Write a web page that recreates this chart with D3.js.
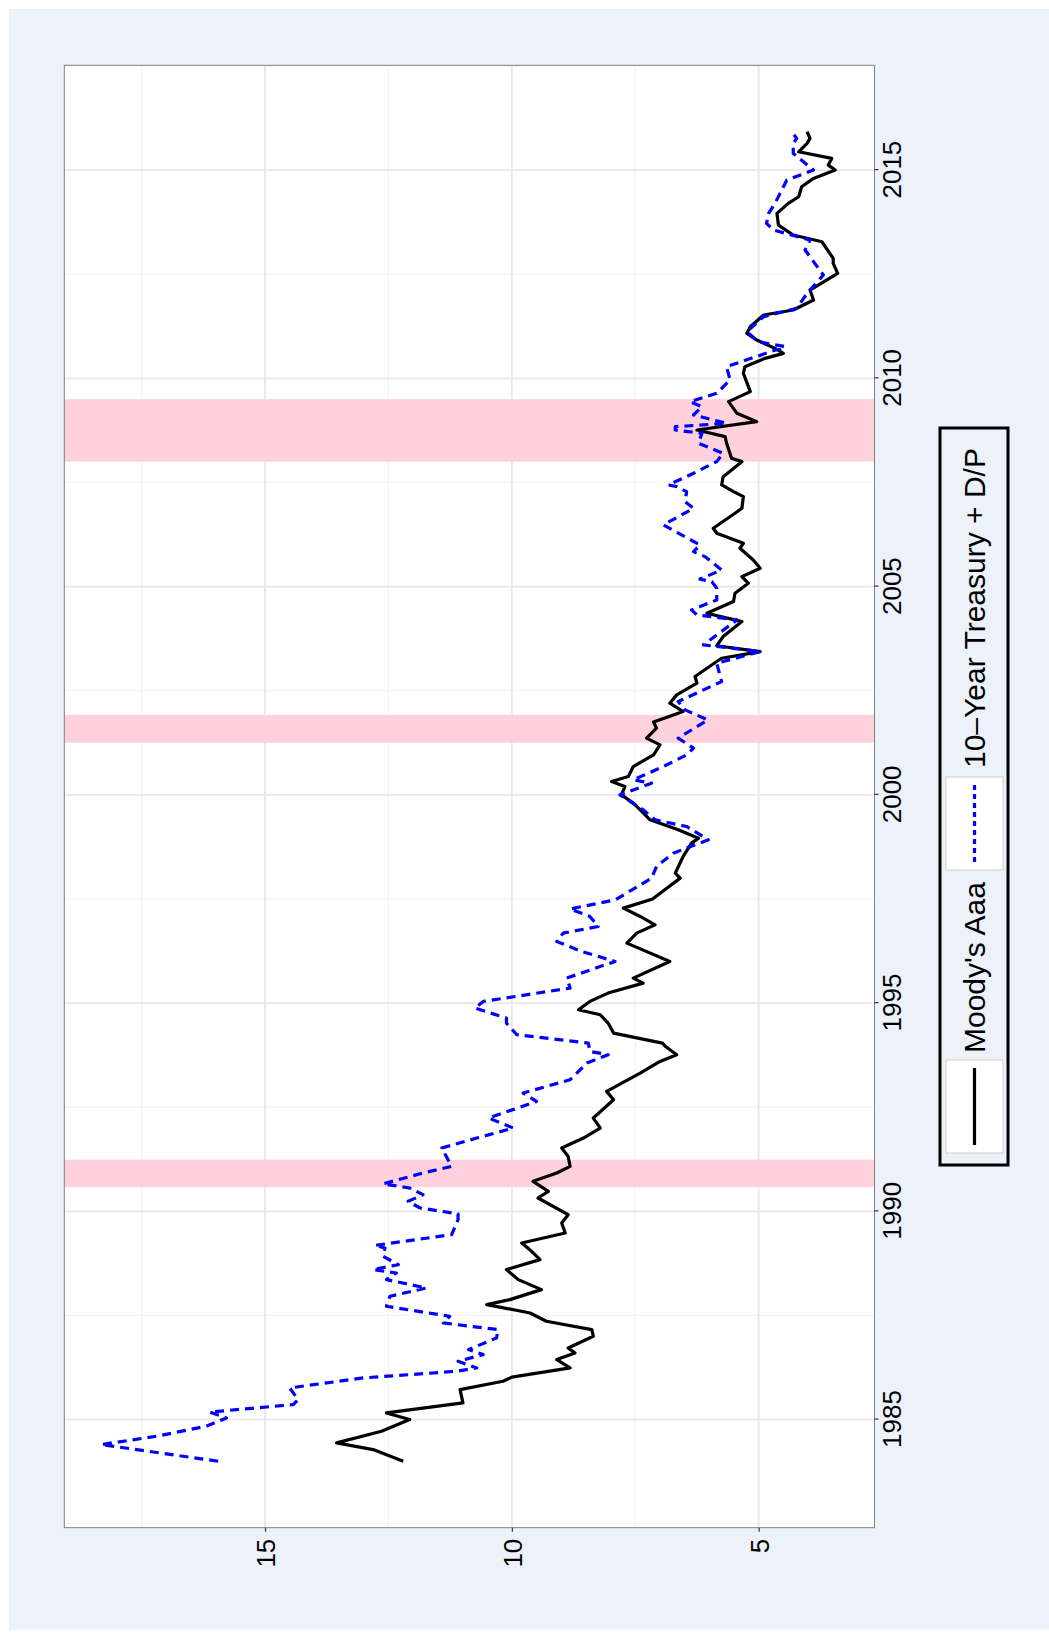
<!DOCTYPE html>
<html><head><meta charset="utf-8">
<script src="https://cdnjs.cloudflare.com/ajax/libs/d3/7.8.5/d3.min.js"></script>
<style>body{margin:0;background:#fff}svg{display:block}</style>
</head><body>
<svg id="c" width="1049" height="1639"></svg>
<script>
// ---- data (decimal years) ----
const aaaYear = [1984.0,1984.28,1984.44,1984.72,1985.0,1985.16,1985.4,1985.72,1985.92,1986.02,1986.24,1986.44,1986.6,1986.72,1987.0,1987.16,1987.36,1987.56,1987.76,1987.88,1988.12,1988.36,1988.6,1988.84,1989.04,1989.24,1989.48,1989.72,1989.92,1990.32,1990.48,1990.72,1990.92,1991.08,1991.32,1991.52,1991.76,1992.0,1992.24,1992.68,1992.88,1993.32,1993.6,1993.76,1993.95,1994.04,1994.28,1994.52,1994.72,1994.84,1995.04,1995.24,1995.48,1995.6,1996.0,1996.44,1996.68,1996.88,1997.08,1997.28,1997.5,1998.0,1998.12,1998.52,1998.84,1998.96,1999.16,1999.4,1999.64,1999.8,2000.0,2000.2,2000.32,2000.44,2000.68,2000.96,2001.2,2001.36,2001.6,2001.75,2002.0,2002.2,2002.4,2002.68,2002.84,2003.2,2003.28,2003.44,2003.58,2003.8,2004.16,2004.36,2004.64,2004.84,2005.08,2005.24,2005.44,2005.64,2005.92,2006.04,2006.28,2006.4,2006.76,2006.88,2007.16,2007.28,2007.44,2007.64,2008.0,2008.08,2008.44,2008.6,2008.76,2008.96,2009.16,2009.44,2009.68,2010.12,2010.28,2010.48,2010.6,2010.72,2010.92,2011.08,2011.24,2011.52,2011.64,2011.88,2012.12,2012.52,2012.76,2012.88,2013.28,2013.44,2013.68,2013.96,2014.2,2014.36,2014.6,2014.8,2015.0,2015.12,2015.28,2015.44,2015.64,2015.76,2015.92];
const aaaValue = [12.2,12.81,13.55,12.64,12.07,12.54,10.99,11.05,10.18,10.0,8.82,9.09,8.72,8.86,8.35,8.38,9.3,9.63,10.51,10.04,9.4,9.87,10.11,9.43,9.6,9.8,8.92,8.99,8.86,9.47,9.26,9.57,9.09,8.82,8.86,8.99,8.55,8.21,8.35,7.94,8.08,7.4,7.0,6.66,6.88,6.95,7.94,8.05,8.21,8.65,8.42,8.05,7.34,7.54,6.8,7.67,7.47,7.1,7.4,7.74,7.15,6.59,6.69,6.53,6.36,6.22,6.63,7.2,7.4,7.54,7.78,7.71,7.98,7.64,7.54,7.13,7.0,7.27,7.07,7.13,6.53,6.8,6.66,6.25,6.29,5.85,5.75,4.97,5.85,5.72,5.34,6.05,5.51,5.48,5.21,5.34,4.97,5.11,5.38,5.31,5.85,5.92,5.48,5.34,5.31,5.51,5.75,5.72,5.34,5.55,5.65,5.68,6.25,5.04,5.44,5.61,5.17,5.31,5.28,4.87,4.5,4.67,5.04,5.24,5.17,4.9,4.3,3.89,3.96,3.4,3.49,3.49,3.72,4.3,4.6,4.63,4.4,4.19,4.13,3.89,3.45,3.59,3.52,4.19,4.02,3.96,4.02];

const tenYear = [1984.0,1984.4,1984.6,1984.84,1985.04,1985.18,1985.36,1985.48,1985.76,1986.0,1986.16,1986.24,1986.4,1986.56,1986.68,1986.96,1987.16,1987.32,1987.48,1987.72,1987.96,1988.16,1988.36,1988.52,1988.6,1988.72,1988.92,1989.12,1989.18,1989.44,1989.8,1989.94,1990.08,1990.24,1990.4,1990.56,1990.66,1990.92,1991.08,1991.52,1991.76,1992.0,1992.24,1992.64,1992.84,1993.16,1993.56,1993.76,1993.84,1994.04,1994.24,1994.52,1994.64,1994.88,1995.04,1995.36,1995.6,1996.0,1996.24,1996.48,1996.68,1996.84,1997.08,1997.26,1997.48,1998.0,1998.28,1998.6,1998.92,1999.24,1999.4,1999.64,2000.0,2000.28,2000.36,2000.68,2000.96,2001.12,2001.36,2001.8,2002.04,2002.24,2002.72,2003.16,2003.44,2003.6,2004.2,2004.32,2004.44,2004.68,2004.96,2005.12,2005.18,2005.4,2005.72,2005.84,2006.0,2006.48,2006.88,2007.04,2007.28,2007.4,2007.44,2007.72,2008.0,2008.2,2008.44,2008.68,2008.76,2008.84,2008.92,2009.12,2009.32,2009.44,2009.64,2009.96,2010.28,2010.76,2010.88,2011.12,2011.48,2011.68,2012.04,2012.48,2013.08,2013.32,2013.56,2013.72,2013.96,2014.2,2014.76,2015.0,2015.4,2015.64,2015.76,2015.92];
const tenValue = [15.95,18.32,17.2,16.19,15.78,16.12,14.43,14.33,14.5,13.01,11.12,10.71,11.09,10.58,10.88,10.31,10.28,11.39,11.26,12.54,12.47,11.73,12.54,12.34,12.81,12.3,12.61,12.57,12.78,11.22,11.09,11.09,11.86,12.1,11.8,12.07,12.61,11.8,11.22,11.42,10.71,9.97,10.47,9.5,9.77,8.82,8.48,8.05,8.42,8.45,9.9,10.11,10.11,10.75,10.58,8.82,8.89,7.91,8.59,9.09,8.96,8.25,8.42,8.82,7.9,7.17,7.07,6.73,6.02,6.46,7.1,7.34,7.81,7.17,7.54,6.93,6.46,6.32,6.63,6.03,6.49,6.63,5.75,5.85,4.97,6.12,5.44,6.25,6.36,5.85,5.85,5.95,6.19,5.75,6.09,6.32,6.19,6.93,6.32,6.49,6.46,6.66,6.83,6.32,5.85,5.72,6.22,6.15,6.69,6.69,5.65,6.32,6.15,6.39,5.85,5.58,5.65,4.46,5.01,5.24,4.9,4.23,4.02,3.69,4.06,3.96,4.7,4.84,4.8,4.67,4.43,3.89,4.3,4.3,4.23,4.33];

const recessionStart = [1990.58, 2001.25, 2008.0];
const recessionEnd   = [1991.24, 2001.92, 2009.5];

const yearTicks  = [1985, 1990, 1995, 2000, 2005, 2010, 2015];
const yearMinor  = [1982.5, 1987.5, 1992.5, 1997.5, 2002.5, 2007.5, 2012.5, 2017.5];
const valueTicks = [5, 10, 15];
const valueMinor = [2.5, 7.5, 12.5, 17.5];
const seriesNames = ["Moody's Aaa", "10\u2013Year Treasury + D/P"];

// ---- layout (drawn in an unrotated 1639 x 1049 frame, then turned -90deg) ----
const FW = 1639;
const P = {left: 111.3, right: 1573.7, top: 64.3, bottom: 874.5};
const BG = '#EDF2FA';
const FONT = "'Liberation Sans', Arial, Helvetica, sans-serif";

const svg = d3.select('#c');
svg.append('rect').attr('width', 1049).attr('height', 1639).attr('fill', '#fff');
const g = svg.append('g').attr('transform', `translate(0,${FW}) rotate(-90)`);
g.append('rect').attr('x', 9).attr('y', 9).attr('width', 1621).attr('height', 1040).attr('fill', BG);

const allYears = aaaYear.concat(tenYear);
const allVals = aaaValue.concat(tenValue);
function expand(ext) { const r = ext[1] - ext[0]; return [ext[0] - 0.05 * r, ext[1] + 0.05 * r]; }
const x = d3.scaleLinear().domain(expand(d3.extent(allYears))).range([P.left, P.right]);
const y = d3.scaleLinear().domain(expand(d3.extent(allVals))).range([P.bottom, P.top]);
const [xd0, xd1] = x.domain(), [yd0, yd1] = y.domain();

// panel
g.append('rect').attr('x', P.left).attr('y', P.top).attr('width', P.right - P.left).attr('height', P.bottom - P.top).attr('fill', '#fff');

// grid
const grid = g.append('g');
grid.selectAll('.mx').data(yearMinor.filter(d => d > xd0 && d < xd1)).join('line')
  .attr('x1', d => x(d)).attr('x2', d => x(d)).attr('y1', P.top).attr('y2', P.bottom)
  .attr('stroke', '#F4F4F4').attr('stroke-width', 1.2);
grid.selectAll('.my').data(valueMinor.filter(d => d > yd0 && d < yd1)).join('line')
  .attr('y1', d => y(d)).attr('y2', d => y(d)).attr('x1', P.left).attr('x2', P.right)
  .attr('stroke', '#F4F4F4').attr('stroke-width', 1.2);
grid.selectAll('.Mx').data(yearTicks).join('line')
  .attr('x1', d => x(d)).attr('x2', d => x(d)).attr('y1', P.top).attr('y2', P.bottom)
  .attr('stroke', '#E8E8E8').attr('stroke-width', 1.8);
grid.selectAll('.My').data(valueTicks).join('line')
  .attr('y1', d => y(d)).attr('y2', d => y(d)).attr('x1', P.left).attr('x2', P.right)
  .attr('stroke', '#E8E8E8').attr('stroke-width', 1.8);

// recessions
g.append('g').selectAll('rect').data(recessionStart.map((s, i) => [s, recessionEnd[i]])).join('rect')
  .attr('x', d => x(d[0])).attr('width', d => x(d[1]) - x(d[0]))
  .attr('y', P.top).attr('height', P.bottom - P.top).attr('fill', '#FFD1DC');

// lines
const line = d3.line().x(d => x(d[0])).y(d => y(d[1]));
g.append('path').datum(aaaYear.map((t, i) => [t, aaaValue[i]]))
  .attr('d', line).attr('fill', 'none').attr('stroke', '#000').attr('stroke-width', 3.2)
  .attr('stroke-linejoin', 'round');
g.append('path').datum(tenYear.map((t, i) => [t, tenValue[i]]))
  .attr('d', line).attr('fill', 'none').attr('stroke', '#0000FF').attr('stroke-width', 3.2)
  .attr('stroke-dasharray', '9,6').attr('stroke-linejoin', 'round');

// panel border
g.append('rect').attr('x', P.left).attr('y', P.top).attr('width', P.right - P.left).attr('height', P.bottom - P.top)
  .attr('fill', 'none').attr('stroke', '#808080').attr('stroke-width', 1);

// axes
const xAxis = d3.axisBottom(x).tickValues(yearTicks).tickSize(4).tickPadding(7).tickFormat(d3.format('d'));
const xa = g.append('g').attr('transform', `translate(0,${P.bottom})`).call(xAxis);
const yAxis = d3.axisLeft(y).tickValues(valueTicks).tickSize(4).tickPadding(7).tickFormat(d3.format('d'));
const ya = g.append('g').attr('transform', `translate(${P.left},0)`).call(yAxis);
[xa, ya].forEach(a => {
  a.select('.domain').remove();
  a.selectAll('.tick line').attr('stroke', '#333').attr('stroke-width', 1.2);
  a.selectAll('.tick text').attr('fill', '#000').style('font-family', FONT).style('font-size', '26px');
});
xa.selectAll('.tick text').attr('dy', null).attr('y', 26);
ya.selectAll('.tick text').attr('dy', '0.36em');

// legend
const L = {x: 474, y: 940, w: 737, h: 68};
const lg = g.append('g');
lg.append('rect').attr('x', L.x).attr('y', L.y).attr('width', L.w).attr('height', L.h)
  .attr('fill', BG).attr('stroke', '#000').attr('stroke-width', 3);
const keyX = [486, 769], textX = [586, 871];
const styles = [{c: '#000', d: null}, {c: '#0000FF', d: '5,4'}];
seriesNames.forEach((name, i) => {
  lg.append('rect').attr('x', keyX[i]).attr('y', 946).attr('width', 93).attr('height', 57)
    .attr('fill', '#fff').attr('stroke', '#CCCCCC').attr('stroke-width', 1);
  lg.append('line').attr('x1', keyX[i] + 8).attr('x2', keyX[i] + 85).attr('y1', 974.5).attr('y2', 974.5)
    .attr('stroke', styles[i].c).attr('stroke-width', 3.2).attr('stroke-dasharray', styles[i].d);
  lg.append('text').attr('x', textX[i]).attr('y', 985).text(name)
    .style('font-family', FONT).style('font-size', '30px').attr('fill', '#000');
});
</script>
</body></html>
